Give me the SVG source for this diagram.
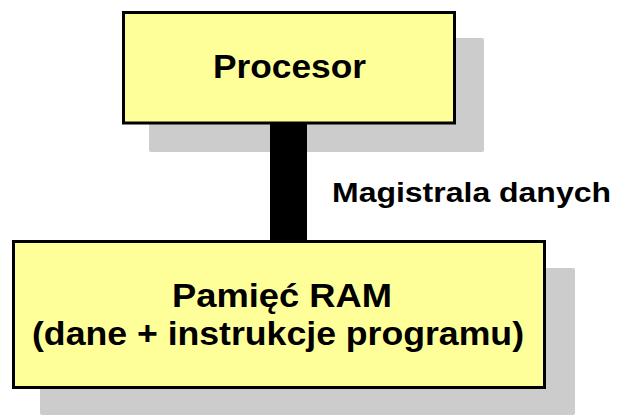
<svg xmlns="http://www.w3.org/2000/svg" width="617" height="415" viewBox="0 0 617 415">
<style>
.shadow{fill:#cccccc;}
.box{fill:#ffff99;stroke:#000000;stroke-width:3;}
.t{font-family:"Liberation Sans",Arial,sans-serif;font-weight:bold;fill:#000000;}
</style>
<rect width="617" height="415" fill="#ffffff"/>
<g id="procesor">
<rect class="shadow" x="149" y="38" width="335" height="114" rx="2"/>
<rect class="box" x="123.5" y="12.5" width="331" height="110.5"/>
<text class="t" x="289.5" y="78" font-size="34" text-anchor="middle" textLength="153" lengthAdjust="spacingAndGlyphs">Procesor</text>
</g>
<g id="ram">
<rect class="shadow" x="40" y="268" width="535" height="147" rx="2"/>
<rect class="box" x="13.5" y="241.5" width="531" height="146"/>
<text class="t" x="282" y="307" font-size="33" text-anchor="middle" textLength="220" lengthAdjust="spacingAndGlyphs">Pamięć RAM</text>
<text class="t" x="278" y="345" font-size="33" text-anchor="middle" textLength="492" lengthAdjust="spacingAndGlyphs">(dane + instrukcje programu)</text>
</g>
<g id="connectors">
<rect x="270" y="124" width="37" height="116" fill="#000000"/>
<text class="t" x="332" y="202" font-size="27" textLength="279" lengthAdjust="spacingAndGlyphs">Magistrala danych</text>
</g>
</svg>
